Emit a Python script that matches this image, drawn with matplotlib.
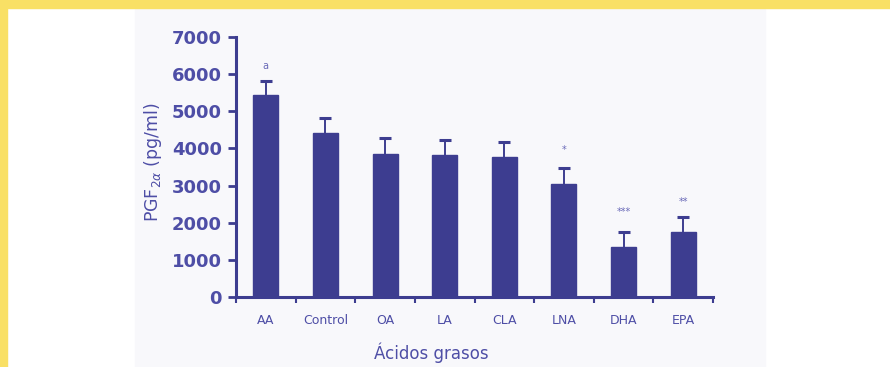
import numpy as np
import matplotlib
matplotlib.use('Agg')
import matplotlib.pyplot as plt
from matplotlib.patches import Rectangle

# datos
acidos = ['AA', 'Control', 'OA', 'LA', 'CLA', 'LNA', 'DHA', 'EPA']
pgf = [5440, 4420, 3850, 3830, 3770, 3050, 1350, 1750]
error = [380, 400, 440, 400, 410, 430, 400, 410]
marcas = ['a', '', '', '', '', '*', '***', '**']
marca_y = [6230, 0, 0, 0, 0, 3960, 2290, 2560]

azul = '#3d3d90'
texto = '#4e4ea6'

fig = plt.figure(figsize=(8.9, 3.67), dpi=100)
fig.patch.set_facecolor('white')
# borde amarillo y zona escaneada (detrás de los ejes)
fig.patches.append(Rectangle((135 / 890, 0), 630 / 890, 1 - 8 / 367, transform=fig.transFigure,
                             color='#f8f8fb', zorder=-10))
fig.patches.append(Rectangle((0, 1 - 8 / 367), 1, 8 / 367, transform=fig.transFigure,
                             color='#f9e065', zorder=-10))
fig.patches.append(Rectangle((0, 0), 7 / 890, 1, transform=fig.transFigure,
                             color='#f9e065', zorder=-10))

ax = fig.add_axes([236 / 890, 1 - 297 / 367, 477 / 890, 260 / 367])
ax.set_facecolor('none')
x = np.arange(len(acidos))
ax.bar(x, pgf, width=0.42, color=azul, edgecolor=azul, zorder=2)
# sólo la mitad superior del error
tope = np.array(pgf) + np.array(error)
ax.vlines(x, pgf, tope, color=azul, linewidth=1.4, zorder=1)
ax.plot(x, tope, linestyle='none', marker='_', markersize=8, markeredgewidth=2.2,
        color=azul, zorder=1)
for xi, m, my in zip(x, marcas, marca_y):
    if m:
        ax.text(xi, my, m, ha='center', va='center', fontsize=7, color='#6a6ab8')

ax.set_xlim(-0.5, 7.5)
ax.set_ylim(0, 7000)
ax.set_yticks(np.arange(0, 7001, 1000))
ax.set_yticklabels([str(v) for v in range(0, 7001, 1000)], fontsize=13,
                   fontweight='bold', color=texto)
ax.set_xticks(np.append(x - 0.5, 7.5))
ax.set_xticklabels([])
ax.tick_params(axis='x', length=4, width=1.5, color=azul, direction='out')
ax.tick_params(axis='y', length=6, width=2, color=azul, direction='out', pad=4)
for xi, lab in zip(x, acidos):
    ax.text(xi, -450, lab, ha='center', va='top', fontsize=9, color=texto)

for s in ['top', 'right']:
    ax.spines[s].set_visible(False)
for s in ['left', 'bottom']:
    ax.spines[s].set_color(azul)
    ax.spines[s].set_linewidth(2.2)

fig.text(153 / 890, 1 - 162 / 367, r'PGF$_{2\alpha}$ (pg/ml)', rotation=90,
         ha='center', va='center', fontsize=12.5, color=texto)
fig.text(431 / 890, 1 - 353 / 367, 'Ácidos grasos', ha='center', va='center',
         fontsize=12, color=texto)

fig.savefig('out.png', dpi=100)
